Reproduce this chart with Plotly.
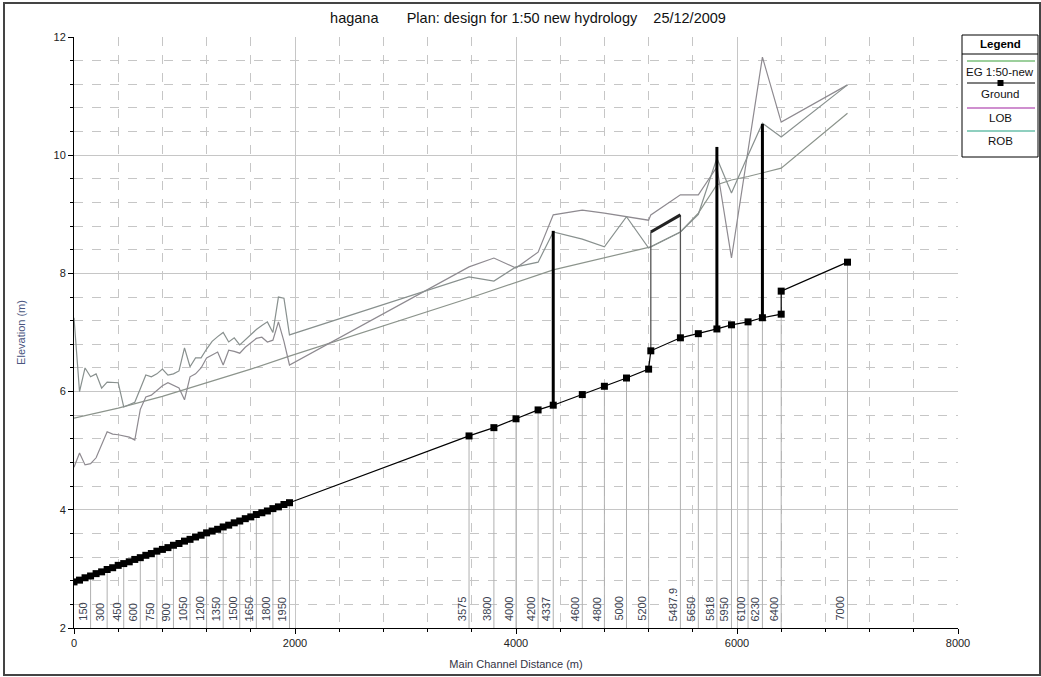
import plotly.graph_objects as go

# Ground profile (main channel invert), m
ground_station = [0, 50, 100, 150, 200, 250, 300, 350, 400, 450,
                  500, 550, 600, 650, 700, 750, 800, 850, 900, 950,
                  1000, 1050, 1100, 1150, 1200, 1250, 1300, 1350, 1400, 1450,
                  1500, 1550, 1600, 1650, 1700, 1750, 1800, 1850, 1900, 1950,
                  3575, 3800, 4000, 4200, 4337, 4600, 4800, 5000, 5200, 5220,
                  5487.9, 5650, 5818, 5950, 6100, 6230, 6400, 6400, 7000]
ground_elev = [2.78, 2.81, 2.85, 2.88, 2.92, 2.95, 2.99, 3.02, 3.06, 3.09,
               3.12, 3.16, 3.19, 3.23, 3.26, 3.30, 3.33, 3.36, 3.40, 3.43,
               3.47, 3.50, 3.54, 3.57, 3.61, 3.64, 3.67, 3.71, 3.74, 3.78,
               3.81, 3.85, 3.88, 3.92, 3.95, 3.98, 4.02, 4.05, 4.09, 4.12,
               5.25, 5.39, 5.54, 5.69, 5.77, 5.95, 6.09, 6.23, 6.38, 6.69,
               6.91, 6.98, 7.06, 7.13, 7.18, 7.25, 7.31, 7.70, 8.19]

# Energy grade line
eg_station = [0, 400, 800, 1200, 1600, 1950, 3575, 4337, 5200, 5220,
              5487.9, 5650, 5818, 5950, 6100, 6230, 6400, 7000]
eg_elev = [5.55, 5.72, 5.92, 6.15, 6.38, 6.60, 7.58, 8.06, 8.43, 8.45,
           8.70, 9.02, 9.50, 9.58, 9.64, 9.70, 9.78, 10.71]

# Left overbank
lob_station = [0, 50, 100, 150, 200, 300, 350, 400, 500, 550,
               600, 650, 700, 800, 850, 900, 950, 1000, 1050, 1100,
               1150, 1200, 1250, 1300, 1350, 1400, 1450, 1500, 1550, 1600,
               1650, 1700, 1750, 1800, 1850, 1900, 1950,
               3575, 3800, 4000, 4200, 4337, 4600, 4800, 5000, 5200, 5220,
               5487.9, 5650, 5818, 5950, 6100, 6230, 6400, 7000]
lob_elev = [4.72, 4.96, 4.76, 4.78, 4.88, 5.32, 5.28, 5.27, 5.23, 5.18,
            5.70, 5.91, 5.94, 6.10, 6.15, 6.10, 6.06, 5.86, 6.25, 6.30,
            6.40, 6.57, 6.62, 6.67, 6.45, 6.70, 6.68, 6.65, 6.75, 6.82,
            6.90, 6.92, 6.84, 6.87, 7.18, 6.85, 6.45,
            8.11, 8.26, 8.09, 8.36, 8.99, 9.07, 9.02, 8.96, 8.90, 8.99,
            9.33, 9.33, 9.80, 8.26, 10.10, 11.66, 10.56, 11.19]

# Right overbank
rob_station = [0, 50, 100, 150, 200, 250, 300, 350, 400, 450,
               550, 600, 650, 700, 750, 800, 850, 900, 950, 1000,
               1050, 1100, 1150, 1200, 1250, 1300, 1350, 1400, 1450, 1500,
               1550, 1600, 1650, 1700, 1750, 1800, 1850, 1900, 1950,
               3575, 3800, 4000, 4200, 4337, 4600, 4800, 5000, 5200, 5220,
               5487.9, 5650, 5818, 5950, 6100, 6230, 6400, 7000]
rob_elev = [7.25, 6.00, 6.40, 6.25, 6.30, 6.06, 6.16, 6.15, 6.15, 5.74,
            5.82, 6.05, 6.28, 6.25, 6.30, 6.38, 6.28, 6.30, 6.35, 6.74,
            6.42, 6.57, 6.57, 6.72, 6.85, 6.93, 7.00, 6.84, 6.91, 6.79,
            6.88, 6.97, 7.05, 7.12, 7.18, 7.00, 7.60, 7.58, 6.96,
            7.94, 7.87, 8.11, 8.19, 8.70, 8.58, 8.45, 8.96, 8.43, 8.45,
            8.70, 9.00, 9.95, 9.36, 10.00, 10.54, 10.31, 11.19]

# Labelled cross sections
label_station = [150, 300, 450, 600, 750, 900, 1050, 1200, 1350, 1500,
                 1650, 1800, 1950, 3575, 3800, 4000, 4200, 4337, 4600, 4800,
                 5000, 5200, 5487.9, 5650, 5818, 5950, 6100, 6230, 6400, 7000]

# Structures (walls) and bridge
wall_station = [4337, 5818, 6230]
wall_top = [8.72, 10.14, 10.53]
bridge_station = [5220, 5487.9]
bridge_deck = [8.70, 8.99]

FONT = "Liberation Sans, Arial, sans-serif"

ground_at = {}
for s, e in zip(ground_station, ground_elev):
    ground_at.setdefault(s, e)

fig = go.Figure()

# thin station lines from the bottom of the plot up to the ground
sx, sy = [], []
for s in label_station:
    sx += [s, s, None]
    sy += [2, ground_at[s], None]
fig.add_trace(go.Scatter(x=sx, y=sy, mode="lines", showlegend=False,
                         line=dict(color="#b0b0b0", width=1), hoverinfo="skip"))

fig.add_trace(go.Scatter(x=eg_station, y=eg_elev, mode="lines", name="EG  1:50-new",
                         line=dict(color="#8c948c", width=1.2)))
fig.add_trace(go.Scatter(x=lob_station, y=lob_elev, mode="lines", name="LOB",
                         line=dict(color="#8e8a90", width=1.2)))
fig.add_trace(go.Scatter(x=rob_station, y=rob_elev, mode="lines", name="ROB",
                         line=dict(color="#88908e", width=1.2)))

# bridge sides and deck
fig.add_trace(go.Scatter(x=[bridge_station[0], bridge_station[0], None,
                            bridge_station[1], bridge_station[1]],
                         y=[ground_at[bridge_station[0]], bridge_deck[0], None,
                            bridge_deck[1], ground_at[bridge_station[1]]],
                         mode="lines", showlegend=False,
                         line=dict(color="#555555", width=1.3), hoverinfo="skip"))
fig.add_trace(go.Scatter(x=bridge_station, y=bridge_deck, mode="lines", showlegend=False,
                         line=dict(color="#222222", width=3), hoverinfo="skip"))

wx, wy = [], []
for s, t in zip(wall_station, wall_top):
    wx += [s, s, None]
    wy += [ground_at[s], t, None]
fig.add_trace(go.Scatter(x=wx, y=wy, mode="lines", showlegend=False,
                         line=dict(color="black", width=3), hoverinfo="skip"))

fig.add_trace(go.Scatter(x=ground_station, y=ground_elev, mode="lines+markers", name="Ground",
                         line=dict(color="black", width=1.2),
                         marker=dict(symbol="square", size=7, color="black")))

# rotated station labels
for s in label_station:
    fig.add_annotation(x=s, y=2.1, text=f"{s:g}", textangle=-90, showarrow=False,
                       xanchor="right", yanchor="bottom", borderpad=0,
                       font=dict(family=FONT, size=11, color="#3c4250"))


# hand-drawn legend box like the HEC-RAS one
def px(p):
    return (p - 74) / 884


def py(p):
    return (628 - p) / 591


paper = dict(xref="paper", yref="paper")
fig.add_shape(type="rect", x0=px(962), x1=px(1038), y0=py(157), y1=py(35),
              line=dict(color="black", width=1), **paper)
fig.add_shape(type="line", x0=px(962), x1=px(1038), y0=py(54), y1=py(54),
              line=dict(color="black", width=1), **paper)
fig.add_annotation(x=px(1000), y=py(44), text="<b>Legend</b>", showarrow=False,
                   xanchor="center", yanchor="middle",
                   font=dict(family=FONT, size=11.5, color="black"), **paper)
legend_rows = [("EG 1:50-new", "#3aa03a", 61, 72),
               ("Ground", "black", 83, 94),
               ("LOB", "#a020a0", 108, 118),
               ("ROB", "#20a080", 131, 141)]
for name, col, ly, ty in legend_rows:
    fig.add_shape(type="line", x0=px(967), x1=px(1035), y0=py(ly), y1=py(ly),
                  line=dict(color=col, width=1.2), **paper)
    fig.add_annotation(x=px(1000), y=py(ty), text=name, showarrow=False,
                       xanchor="center", yanchor="middle",
                       font=dict(family=FONT, size=11.5, color="#111111"), **paper)
fig.add_shape(type="rect", x0=px(997.5), x1=px(1003.5), y0=py(86), y1=py(80),
              fillcolor="black", line=dict(width=0), **paper)

# outer frame
fig.add_shape(type="rect", x0=px(4), x1=px(1040), y0=py(675), y1=py(3),
              line=dict(color="#444444", width=2), **paper)

grid = "#c6c6c6"
fig.update_layout(
    width=1041, height=677,
    margin=dict(l=74, r=83, t=37, b=49),
    paper_bgcolor="white", plot_bgcolor="white",
    showlegend=False,
    font=dict(family=FONT, size=11, color="#222222"),
    title=dict(text="hagana\u00a0\u00a0\u00a0\u00a0\u00a0\u00a0\u00a0Plan: design for 1:50 new hydrology"
                    "\u00a0\u00a0\u00a0\u00a025/12/2009",
               x=528 / 1041, xanchor="center", y=1 - 18 / 677, yanchor="middle",
               font=dict(family=FONT, size=14.5, color="#111111")),
    xaxis=dict(range=[0, 8000], dtick=2000, tickformat="d", showgrid=True, gridcolor=grid,
               showline=True, linecolor="black", ticks="outside", ticklen=5, tickcolor="black",
               zeroline=False, automargin=False,
               minor=dict(dtick=400, showgrid=True, gridcolor=grid, griddash="dash",
                          ticks="outside", ticklen=3, tickcolor="black"),
               title=dict(text="Main Channel Distance (m)", standoff=12,
                          font=dict(family=FONT, size=11, color="#333344"))),
    yaxis=dict(range=[2, 12], dtick=2, showgrid=True, gridcolor=grid,
               showline=True, linecolor="black", ticks="outside", ticklen=5, tickcolor="black",
               zeroline=False, automargin=False,
               minor=dict(dtick=0.4, showgrid=True, gridcolor=grid, griddash="dash",
                          ticks="outside", ticklen=3, tickcolor="black"),
               title=dict(text="Elevation (m)", standoff=25,
                          font=dict(family=FONT, size=11, color="#4a5680"))),
)

fig.write_html("out.html", config={"displayModeBar": False},
               post_script="document.body.style.margin='0';")
